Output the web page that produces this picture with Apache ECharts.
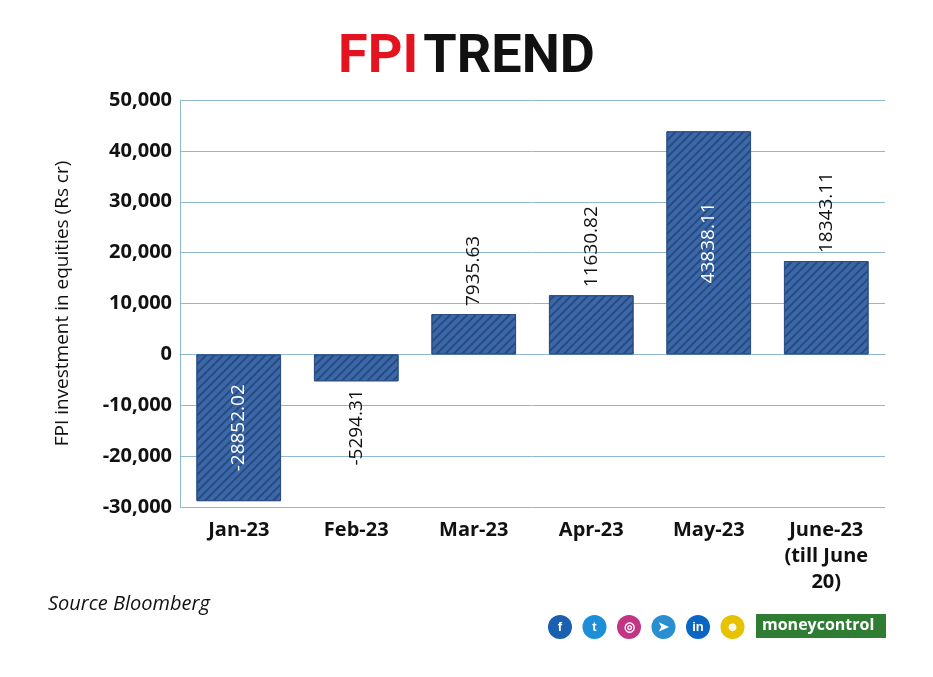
<!DOCTYPE html>
<html><head><meta charset="utf-8">
<script src="https://cdn.jsdelivr.net/npm/echarts@6/dist/echarts.min.js"></script>
<style>html,body{margin:0;padding:0;background:#fff}#c{width:933px;height:677px}</style>
</head><body><div id="c"></div>
<script>
const categories = ['Jan-23','Feb-23','Mar-23','Apr-23','May-23','June-23\n(till June\n20)'];
const values = [-28852.02,-5294.31,7935.63,11630.82,43838.11,18343.11];
const labelInside = [true,false,false,false,true,false];
const yTicks = {min:-30000,max:50000,interval:10000};

const chart = echarts.init(document.getElementById('c'));
const data = values.map((v,i)=>({
  value:v,
  label:{
    show:true, rotate:90,
    position: labelInside[i] ? 'inside' : (v<0 ? 'bottom' : 'top'),
    align: labelInside[i] ? 'center' : (v<0 ? 'right' : 'left'),
    verticalAlign:'middle',
    color: labelInside[i] ? '#fff' : '#111',
    distance: 8,
    formatter: ()=>String(v)
  }
}));
chart.setOption({
  animation:false,
  backgroundColor:'#fff',
  title:{
    text:'{r|FPI} {b|TREND}', left:'center', top:26,
    textStyle:{rich:{
      r:{color:'#e3141f',fontSize:54,fontWeight:'bold',fontFamily:'Roboto'},
      b:{color:'#111',fontSize:54,fontWeight:'bold',fontFamily:'Roboto'}
    }}
  },
  grid:{left:180,right:48,top:100,bottom:170},
  xAxis:{
    type:'category', data:categories,
    axisLine:{lineStyle:{color:'#8fb8d0'}}, axisTick:{show:false},
    axisLabel:{color:'#111',fontSize:20,fontWeight:'bold',fontFamily:'Open Sans',margin:10,lineHeight:26,interval:0}
  },
  yAxis:{
    type:'value', min:yTicks.min, max:yTicks.max, interval:yTicks.interval,
    name:'FPI investment in equities (Rs cr)', nameLocation:'middle', nameGap:108,
    nameTextStyle:{color:'#111',fontSize:19,fontFamily:'Open Sans'},
    axisLine:{show:true,lineStyle:{color:'#8fb8d0'}},
    splitLine:{lineStyle:{color:'#8fb8d0'}},
    axisLabel:{color:'#111',fontSize:20,fontWeight:'bold',fontFamily:'Open Sans',
      formatter:v=>v.toLocaleString('en-US')}
  },
  series:[{
    type:'bar', data:data, barWidth:'72%',
    itemStyle:{color:'#3a68a8',borderColor:'#2c4f85',borderWidth:1,
      decal:{symbol:'rect',dashArrayX:[1,0],dashArrayY:[2,4],rotation:-Math.PI/4,color:'#284a80'}},
    label:{fontSize:19,fontFamily:'Open Sans'}
  }],
  graphic:[
    {type:'text',left:48,top:594,style:{text:'Source Bloomberg',font:'italic 20px "Open Sans"',fill:'#111'}},
    ...['f','t','◎','➤','in','☻'].map((s,i)=>({type:'group',left:548+i*34.5,top:615,children:[
      {type:'circle',shape:{cx:12,cy:12,r:12},style:{fill:['#1a5fb0','#1d8fd8','#c13584','#2a8fd0','#0a66c2','#e6c200'][i]}},
      {type:'text',style:{text:s,x:12,y:12,align:'center',verticalAlign:'middle',fill:'#fff',font:'bold 13px sans-serif'}}
    ]})),
    {type:'rect',left:756,top:614,shape:{width:130,height:24},style:{fill:'#2e7d32'}},
    {type:'text',left:762,top:617,style:{text:'moneycontrol',font:'bold 16px "Open Sans"',fill:'#fff'}}
  ]
});
</script></body></html>
